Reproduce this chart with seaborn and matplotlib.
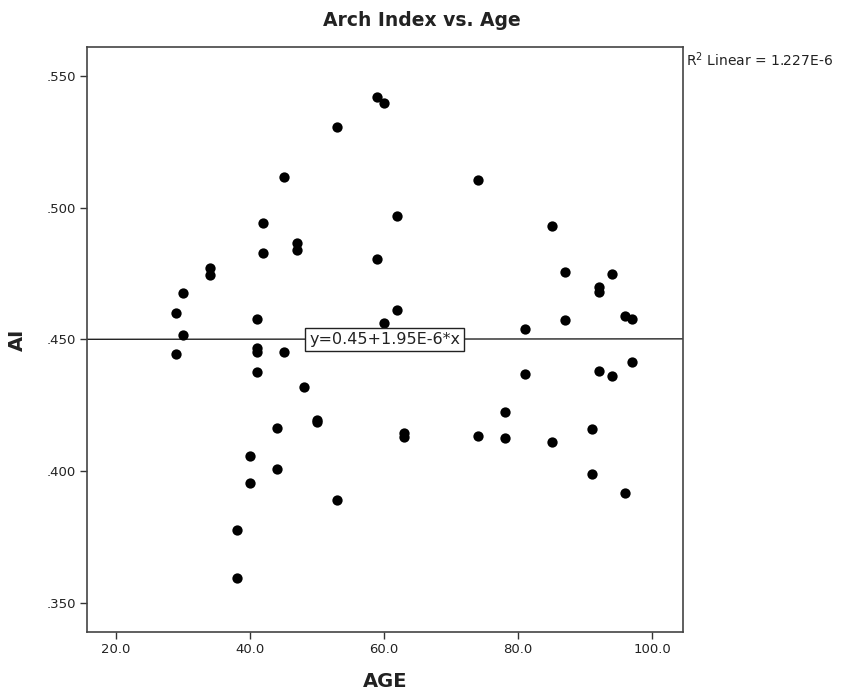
import matplotlib
matplotlib.use("Agg")
import matplotlib.pyplot as plt
import matplotlib.ticker as mticker
import seaborn as sns
import pandas as pd

# Arch index measurements by age
age = [29, 29, 30, 30, 34, 34, 38, 38, 40, 40, 41, 41, 41, 41, 42, 42,
       44, 44, 45, 45, 47, 47, 48, 50, 50, 53, 53, 59, 59, 60, 60, 62,
       62, 63, 63, 74, 74, 78, 78, 81, 81, 85, 85, 87, 87, 91, 91, 92,
       92, 92, 94, 94, 96, 96, 97, 97]
ai = [0.4599, 0.4443, 0.4675, 0.4515, 0.4770, 0.4745, 0.3775, 0.3593,
      0.4057, 0.3956, 0.4577, 0.4466, 0.4453, 0.4377, 0.4943, 0.4827,
      0.4162, 0.4008, 0.5117, 0.4453, 0.4865, 0.4839, 0.4320, 0.4194,
      0.4187, 0.5305, 0.3889, 0.5419, 0.4804, 0.5396, 0.4561, 0.4970,
      0.4612, 0.4143, 0.4131, 0.5105, 0.4133, 0.4226, 0.4124, 0.4541,
      0.4367, 0.4932, 0.4109, 0.4757, 0.4574, 0.4161, 0.3988, 0.4700,
      0.4681, 0.4380, 0.4748, 0.4361, 0.4589, 0.3918, 0.4576, 0.4414]

# Linear fit as reported
intercept = 0.45
slope = 1.95e-6
r_squared_text = "1.227E-6"

df = pd.DataFrame({"AGE": age, "AI": ai})

sns.set_style("white")
plt.rcParams["font.family"] = ["DejaVu Sans"]

fig = plt.figure(figsize=(8.43, 6.91), dpi=100)
ax = fig.add_axes([0.1032, 0.0858, 0.7070, 0.8457])

xlim = (15.67, 104.6)
ylim = (0.3390, 0.5609)

# Fit line across the full width
ax.plot(list(xlim), [intercept + slope * xlim[0], intercept + slope * xlim[1]],
        color="#222222", lw=1.0, zorder=1)

sns.scatterplot(data=df, x="AGE", y="AI", ax=ax, color="black", s=55,
                edgecolor="black", linewidth=0, zorder=3)

ax.set_xlim(*xlim)
ax.set_ylim(*ylim)
ax.set_xticks([20, 40, 60, 80, 100])
ax.set_yticks([0.35, 0.40, 0.45, 0.50, 0.55])
ax.xaxis.set_major_formatter(mticker.FuncFormatter(lambda v, p: f"{v:.1f}"))
ax.yaxis.set_major_formatter(mticker.FuncFormatter(lambda v, p: f"{v:.3f}".lstrip("0")))
ax.tick_params(axis="both", which="major", direction="out", length=5, width=1,
               color="#333333", labelsize=9.5, labelcolor="#222222",
               bottom=True, left=True, top=False, right=False, pad=3)

for side in ["top", "right", "bottom", "left"]:
    ax.spines[side].set_visible(True)
    ax.spines[side].set_color("#444444")
    ax.spines[side].set_linewidth(1.2)

ax.set_xlabel("AGE", fontsize=14, fontweight="bold", labelpad=12, color="#222222")
ax.set_ylabel("AI", fontsize=14, fontweight="bold", labelpad=14, color="#222222")
fig.text(0.5, 1 - 21 / 691, "Arch Index vs. Age", fontsize=13.5,
         fontweight="bold", ha="center", va="center", color="#222222")

# Equation label on the fit line
label_x = 60.1
ax.text(label_x, intercept + slope * label_x, "y=0.45+1.95E-6*x",
        fontsize=11.5, ha="center", va="center", color="#222222", zorder=4,
        bbox=dict(boxstyle="square,pad=0.25", facecolor="white",
                  edgecolor="#222222", linewidth=1.0))

fig.text(686 / 843, 1 - 60 / 691, "R$^2$ Linear = " + r_squared_text,
         fontsize=10, ha="left", va="center", color="#222222")

fig.savefig("out.png", dpi=100)
